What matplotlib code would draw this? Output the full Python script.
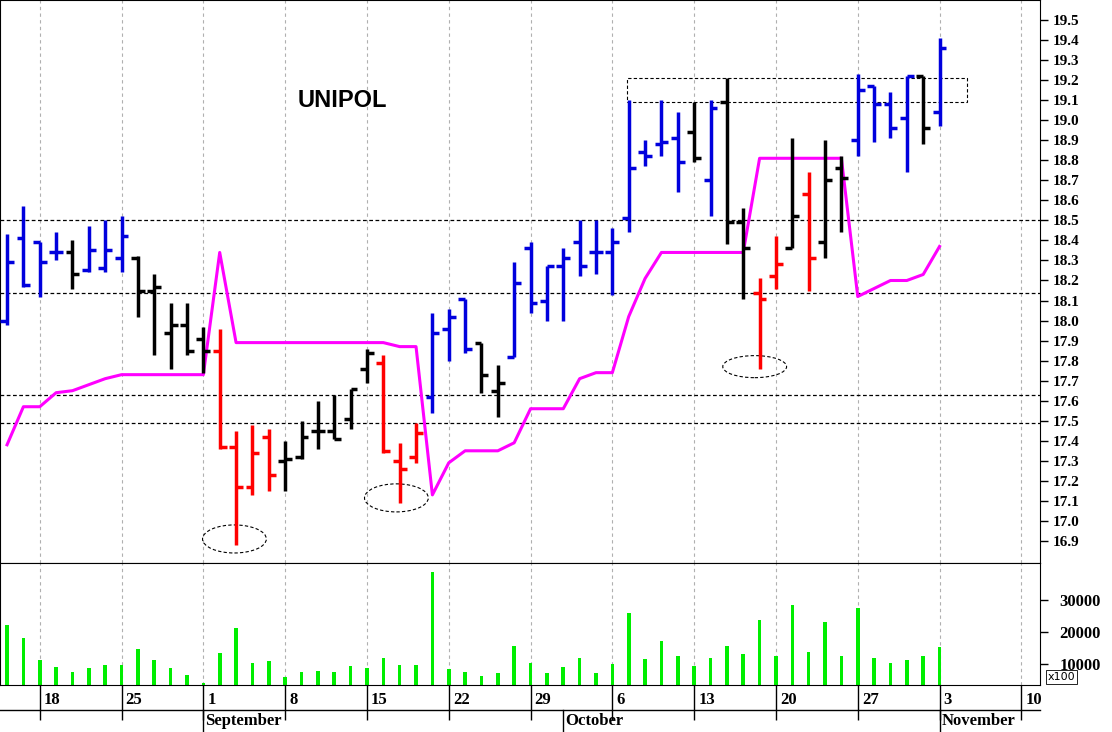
import matplotlib
matplotlib.use("Agg")
import matplotlib.pyplot as plt
import matplotlib.transforms as mt
from matplotlib.patches import Ellipse, Rectangle
import numpy as np

opens = [18.00,18.41,18.39,18.34,18.34,18.25,18.26,18.31,18.31,18.15,17.94,17.98,17.91,17.85,17.37,17.17,17.42,17.30,17.32,17.45,17.45,17.51,17.76,17.79,17.30,17.32,
         17.62,17.96,18.11,17.89,17.65,17.82,18.36,18.10,18.27,18.39,18.34,18.34,18.51,18.84,18.88,18.91,18.94,18.70,19.09,18.49,18.14,18.22,18.36,18.63,18.39,18.76,
         18.90,19.17,19.08,19.01,19.22,19.04]
highs = [18.43,18.57,18.39,18.44,18.40,18.47,18.50,18.52,18.32,18.23,18.09,18.09,17.97,17.96,17.45,17.48,17.46,17.40,17.50,17.60,17.63,17.66,17.86,17.83,17.39,17.49,
         18.04,18.06,18.11,17.89,17.78,18.29,18.39,18.27,18.36,18.50,18.50,18.46,19.10,18.90,19.10,19.04,19.09,19.10,19.21,18.56,18.21,18.42,18.91,18.74,18.90,18.82,
         19.23,19.17,19.14,19.22,19.22,19.41]
lows = [17.98,18.17,18.12,18.30,18.16,18.24,18.24,18.24,18.02,17.83,17.76,17.83,17.74,17.36,16.88,17.13,17.15,17.15,17.31,17.36,17.41,17.46,17.69,17.34,17.09,17.29,
        17.54,17.80,17.84,17.64,17.52,17.82,18.04,18.00,18.00,18.22,18.23,18.13,18.44,18.77,18.82,18.64,18.79,18.52,18.38,18.11,17.76,18.16,18.36,18.15,18.31,18.44,
        18.82,18.89,18.91,18.74,18.88,18.97]
closes = [18.29,18.18,18.29,18.34,18.23,18.35,18.35,18.42,18.15,18.17,17.98,17.85,17.85,17.37,17.17,17.34,17.23,17.31,17.42,17.45,17.41,17.66,17.84,17.35,17.26,17.44,
          17.94,18.02,17.86,17.73,17.69,18.19,18.09,18.27,18.31,18.27,18.34,18.39,18.76,18.82,18.89,18.79,18.81,19.06,18.49,18.36,18.11,18.28,18.52,18.31,18.70,18.71,
          19.15,19.08,18.96,19.22,18.96,19.36]
colors = (["b"]*4 + ["k"] + ["b"]*3 + ["k"]*5 + ["r"]*4 + ["k"]*6 + ["r"]*3 + ["b"]*3 + ["k"]*2 +
          ["b"]*11 + ["k"] + ["b"] + ["k"]*2 + ["r"]*2 + ["k"] + ["r"] + ["k"]*2 + ["b"]*4 + ["k"] + ["b"])
stop_line = [17.38,17.57,17.57,17.64,17.65,17.68,17.71,17.73,17.73,17.73,17.73,17.73,17.73,18.34,17.89,17.89,17.89,17.89,17.89,17.89,17.89,17.89,17.89,17.89,17.87,17.87,
             17.13,17.29,17.35,17.35,17.35,17.39,17.56,17.56,17.56,17.71,17.74,17.74,18.02,18.21,18.34,18.34,18.34,18.34,18.34,18.34,18.81,18.81,18.81,18.81,18.81,18.81,
             18.12,18.16,18.20,18.20,18.23,18.37]
volume = [22240,18270,11270,8970,7400,8860,9700,9700,14720,11270,8860,6560,3950,13500,21190,10430,11060,6040,7400,7820,7400,9390,8860,12000,9700,9700,
          38750,8450,7400,6250,7090,15760,10220,7090,9180,11790,7090,10010,25900,11480,17330,12630,9390,12000,15760,13150,23600,12630,28300,13670,22970,12630,
          27460,11790,10220,11270,12630,15450]
week_idx = [2,7,12,17,22,27,32,37,42,47,52,57,62]
week_labels = ["18","25","1","8","15","22","29","6","13","20","27","3","10"]
month_idx = [12,34,57]
month_labels = ["September","October","November"]
levels = [18.5,18.14,17.63,17.49]

cmap = {"b":"#0000dd","k":"#000000","r":"#ff0000"}
W, H = 1112, 732
fig = plt.figure(figsize=(W/100, H/100), dpi=100)
ax = fig.add_axes([0, 1-563/H, 1040/W, 563/H])
axv = fig.add_axes([0, 1-685/H, 1040/W, 122/H])
xl = (-0.43, 63.14)
tfont = dict(family="Liberation Serif", weight="bold", size=11)

x = np.arange(len(opens))
for a in (ax, axv):
    a.set_xlim(*xl)
    for wi in week_idx:
        a.axvline(wi, color="#b0b0b0", lw=0.8, ls=(0,(3,3)), zorder=0)
    a.yaxis.tick_right()
    a.tick_params(axis="y", direction="out", length=6, width=1, pad=3)

ax.set_ylim(16.79, 19.60)
for lv in levels:
    ax.axhline(lv, color="k", lw=0.9, ls=(0,(3,2)), zorder=1)
for i in x:
    c = cmap[colors[i]]
    ax.vlines(i, lows[i], highs[i], color=c, lw=2.5, zorder=3)
    ax.hlines(opens[i], i-0.42, i, color=c, lw=2.5, zorder=3)
    ax.hlines(closes[i], i, i+0.42, color=c, lw=2.5, zorder=3)
ax.plot(x, stop_line, color="#ff00ff", lw=2.2, zorder=2)
ax.set_yticks(np.round(np.arange(16.9, 19.51, 0.1), 1))
ax.set_yticklabels([f"{v:.1f}" for v in np.arange(16.9, 19.51, 0.1)], fontdict=tfont)
ax.set_xticks([])
ax.text(20.5, 19.1, "UNIPOL", fontsize=17, fontweight="bold", ha="center", va="center", family="Liberation Sans")
ax.add_patch(Ellipse((13.9, 16.91), 3.9, 0.14, fill=False, ls=(0,(3,2)), lw=0.8))
ax.add_patch(Ellipse((23.8, 17.115), 3.9, 0.14, fill=False, ls=(0,(3,2)), lw=0.8))
ax.add_patch(Ellipse((45.7, 17.77), 3.9, 0.11, fill=False, ls=(0,(3,2)), lw=0.8))
ax.add_patch(Rectangle((37.9, 19.09), 20.8, 0.12, fill=False, ls=(0,(3,2)), lw=0.8))

axv.set_ylim(3440, 41560)
axv.bar(x, volume, width=0.22, color="#00ee00", zorder=2)
axv.set_yticks([10000, 20000, 30000])
axv.set_yticklabels(["10000", "20000", "30000"], fontdict=dict(family="Liberation Serif", weight="bold", size=12))
axv.tick_params(axis="y", pad=8)
axv.set_xticks(week_idx)
axv.set_xticklabels(week_labels, fontdict=dict(family="Liberation Serif", weight="bold", size=12), ha="left")
axv.tick_params(axis="x", direction="out", length=25, width=1, pad=-20)
off = mt.ScaledTranslation(4/100, 0, fig.dpi_scale_trans)
for lab in axv.get_xticklabels():
    lab.set_transform(lab.get_transform() + off)
fig.add_artist(plt.Line2D([0, 1040/W], [1-710/H, 1-710/H], color="k", lw=1))
for mi, ml in zip(month_idx, month_labels):
    xf = (mi - xl[0]) / (xl[1]-xl[0]) * 1040/W
    fig.add_artist(plt.Line2D([xf, xf], [0, 1-710/H], color="k", lw=1))
    fig.text(xf + 2/W, 1-721/H, ml, ha="left", va="center", family="Liberation Serif", weight="bold", size=12)
fig.text(1048/W, 1-677/H, "x100", ha="left", va="center", family="DejaVu Sans", size=8,
         bbox=dict(boxstyle="square,pad=0.15", fc="white", ec="k", lw=0.6))
fig.savefig("out.png", dpi=100)
